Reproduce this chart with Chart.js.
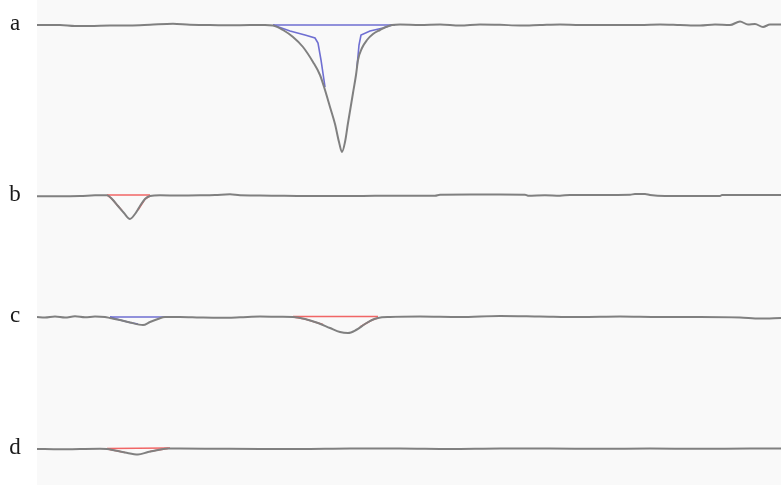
<!DOCTYPE html>
<html>
<head>
<meta charset="utf-8">
<script src="https://cdn.jsdelivr.net/npm/chart.js@4.4.1/dist/chart.umd.min.js"></script>
<style>
html,body{margin:0;padding:0;background:#fff;}
#wrap{width:781px;height:485px;position:relative;}
</style>
</head>
<body>
<div id="wrap"><canvas id="c" width="781" height="485"></canvas></div>
<script>
// Trace labels and vertical offsets (signal level of each baseline)
const traceLabels = ["a", "b", "c", "d"];
const traceOffsets = [460, 289, 168, 36];

// Scan positions and signal deviations (positive = downward dip) for each trace
const scanA = [0,23,38,53,73,93,113,136,153,173,193,213,228,236,246,256,266,276,283,288,293,298,302,305,308,311,314,316,319,321,325,330,336,343,349,355,363,383,403,423,443,463,483,503,523,543,563,583,603,623,643,663,678,693,703,711,718,726,733,744];
const devA  = [0,0,1,1,0.5,0.5,-0.2,-1.2,-0.2,0,0.3,0,0,0.5,5,12,22,37,50,65,82,99,117,127,117,98,80,68,50,35,23,15,9,5,2,0,-0.5,0,-0.5,0.5,-0.5,-0.2,0.5,0,-0.5,0,0,0,0,-0.5,0,0.5,-0.5,0,-3.5,-0.5,-1,2,-0.5,-0.5];

const scanB = [0,23,43,58,70,75,81,87,93,98,103,108,113,123,143,163,178,193,203,223,243,263,293,323,353,363,398,403,433,463,488,491,508,523,533,563,593,598,608,613,628,663,683,685,713,744];
const devB  = [0.3,0.3,0,-0.7,-0.8,3,10,17,23,18,10,3,0,-0.7,-0.5,-0.7,-1,-1.7,-0.7,-0.5,-0.2,0,0,0,-0.3,-0.3,-0.3,-1.3,-1.5,-1.5,-1.3,-0.3,-0.7,-0.3,-1,-1,-1.2,-2,-2,-1,0,0,0,-1,-1,-1];

const scanC = [0,8,18,28,38,48,58,68,73,83,93,106,113,121,128,143,163,183,203,223,243,256,268,281,293,303,311,319,328,335,341,353,383,423,463,503,543,583,623,663,703,723,744];
const devC  = [0,0.5,-0.5,0.5,-0.7,0.3,-0.5,0,1,3,5.5,8,5,2,0,0,0.5,0.8,0.3,-0.5,-0.2,0,2,6,11,15,16,13,7,3,1,0,-0.5,0,-1,-0.5,0,-0.5,0,0,0.5,1.5,1];

const scanD = [0,23,43,63,70,78,88,101,111,121,131,143,183,223,263,313,363,413,463,513,563,613,663,713,744];
const devD  = [0,0.3,0,-0.2,0,1.5,3.5,5.5,3,1,-0.5,-0.5,-0.2,0,0,-0.5,-0.5,0,-0.5,-0.5,-0.2,-0.5,-0.2,-0.5,-0.5];

// Integration marks: baselines and peak-edge markers (scan, deviation)
const markA_base = [[236,0],[358,0]];
const markA_inner = [[236,0],[253,6],[268,10],[278,13],[281,18],[284,35],[288,62],null,[320,42],[322,20],[324,10],[333,6],[346,3],[355,0]];
const markB_base = [[70,-1],[113,-1]];
const markB_edges = [[70,-1],[75,3],[81,10],[85,14.5],null,[101,14],[108,3],[113,0]];
const markC1_base = [[73,0],[128,0]];
const markC1_edges = [[73,0],[83,3],[93,5.5],[101,7]];
const markC2_base = [[256,-0.5],[341,-0.5]];
const markC2_edges = [[256,0],[268,2],[281,6],[286,7.5],null,[323,10],[328,7],[335,3],[341,1]];
const markD_base = [[70,-0.5],[133,-1]];
const markD_edges = [[70,0],[78,1.5],[88,3.5],null,[113,2.5],[121,1],[131,-0.5]];

const GRAY = "#808080", BLUE = "rgba(95,95,205,0.9)", RED = "rgba(240,85,85,0.9)";

function trace(scans, devs, off){ return scans.map((s,i)=>({x:s, y:off - devs[i]})); }
function markSet(pts, off, color){
  const d = [];
  pts.forEach(p => { if (p === null) d.push({x: d.length ? d[d.length-1].x + 0.01 : 0, y: null}); else d.push({x:p[0], y:off - p[1]}); });
  return {data:d, borderColor:color, borderWidth:1.6, pointRadius:0, spanGaps:false, tension:0, order:2};
}
function mainSet(scans, devs, off){
  return {data:trace(scans,devs,off), borderColor:GRAY, borderWidth:2, pointRadius:0, cubicInterpolationMode:'monotone', order:1};
}

const datasets = [
  mainSet(scanA, devA, traceOffsets[0]),
  mainSet(scanB, devB, traceOffsets[1]),
  mainSet(scanC, devC, traceOffsets[2]),
  mainSet(scanD, devD, traceOffsets[3]),
  markSet(markA_base, traceOffsets[0], BLUE),
  markSet(markA_inner, traceOffsets[0], BLUE),
  markSet(markB_base, traceOffsets[1], RED),
  markSet(markB_edges, traceOffsets[1], RED),
  markSet(markC1_base, traceOffsets[2], BLUE),
  markSet(markC1_edges, traceOffsets[2], BLUE),
  markSet(markC2_base, traceOffsets[2], RED),
  markSet(markC2_edges, traceOffsets[2], RED),
  markSet(markD_base, traceOffsets[3], RED),
  markSet(markD_edges, traceOffsets[3], RED)
];

const areaBg = {
  id:'areaBg',
  beforeDatasetsDraw(chart){
    const {ctx, chartArea:a} = chart;
    ctx.save(); ctx.fillStyle = '#f9f9f9';
    ctx.fillRect(a.left, a.top, a.right - a.left, a.bottom - a.top);
    ctx.restore();
  },
  afterDraw(chart){
    const {ctx} = chart, y = chart.scales.y;
    ctx.save();
    ctx.fillStyle = '#1a1a1a';
    ctx.font = '23px "Liberation Serif"';
    ctx.textAlign = 'center'; ctx.textBaseline = 'alphabetic';
    traceOffsets.forEach((v,i)=> ctx.fillText(traceLabels[i], 15, y.getPixelForValue(v) + 5));
    ctx.restore();
  }
};

new Chart(document.getElementById('c'), {
  type:'line',
  data:{datasets},
  plugins:[areaBg],
  options:{
    responsive:false, animation:false,
    layout:{padding:{left:37, right:0, top:0, bottom:0}},
    plugins:{legend:{display:false}, tooltip:{enabled:false}},
    scales:{
      x:{type:'linear', min:0, max:744, display:false},
      y:{min:0, max:485, display:false}
    }
  }
});
</script>
</body>
</html>
